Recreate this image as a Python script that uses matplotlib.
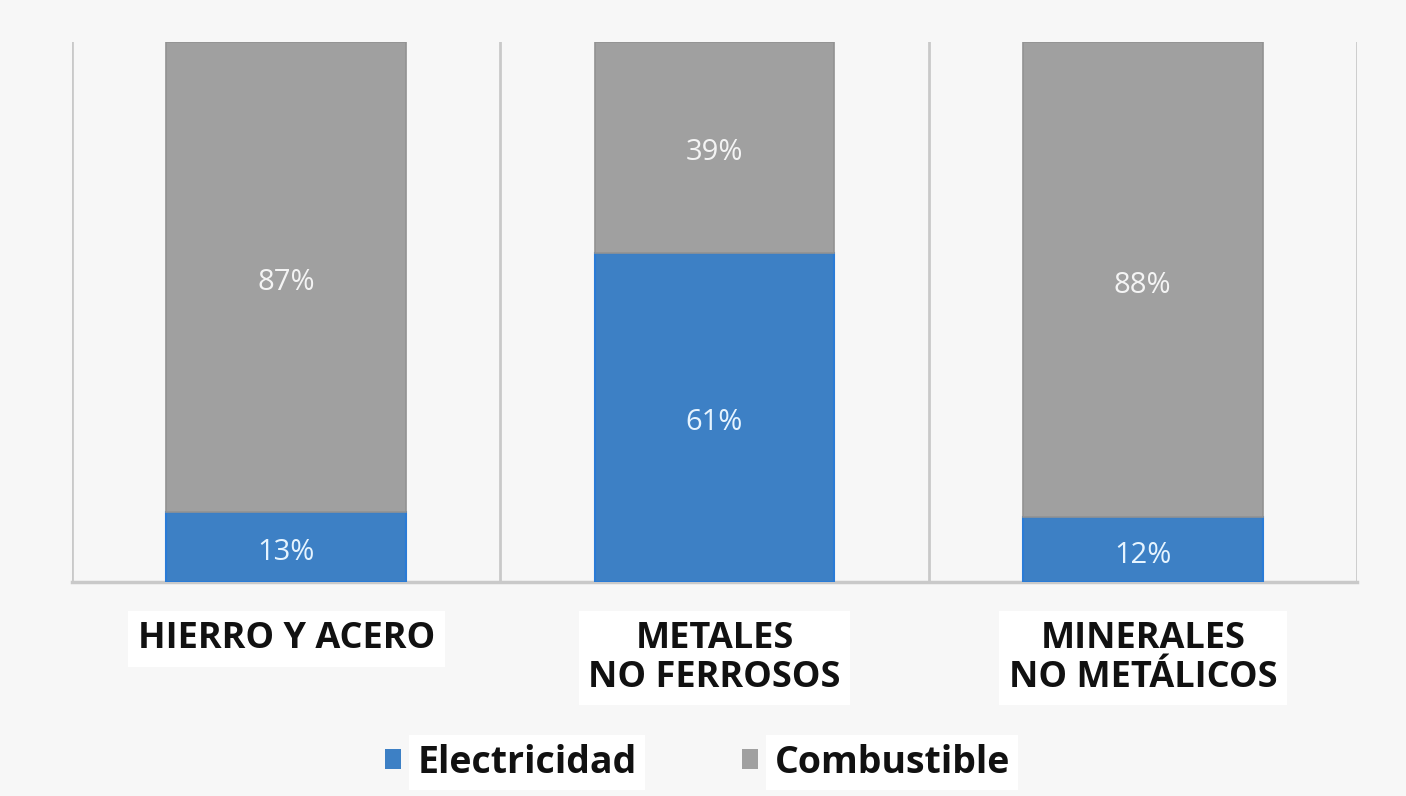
import matplotlib.pyplot as plt
import numpy as np
from matplotlib.patches import Patch

categories = ['HIERRO Y ACERO', 'METALES\nNO FERROSOS', 'MINERALES\nNO METÁLICOS']
electricidad = [13, 61, 12]
combustible = [87, 39, 88]

blue = '#3d80c5'
gray = '#a0a0a0'
bg = '#f7f7f7'
grid = '#c9c9c9'

plt.rcParams['font.family'] = ['Open Sans', 'DejaVu Sans']

fig = plt.figure(figsize=(14.06, 7.96), dpi=100, facecolor=bg)
ax = fig.add_axes([0.0512, 0.2688, 0.9139, 0.6784])
ax.set_facecolor(bg)

x = np.arange(len(categories))
w = 0.56
b1 = ax.bar(x, electricidad, w, color=blue, edgecolor='#2a7bd6', linewidth=1.5, zorder=3)
b2 = ax.bar(x, combustible, w, bottom=electricidad, color=gray, edgecolor='#929292', linewidth=1.2, zorder=3)

# etiquetas de porcentaje dentro de cada tramo
for bars, vals, col in [(b1, electricidad, '#e6f4ff'), (b2, combustible, '#f4f4f4')]:
    for rect, v in zip(bars, vals):
        ax.annotate(f'{v}%', (rect.get_x() + rect.get_width() / 2, rect.get_y() + rect.get_height() / 2),
                    xytext=(0, -4), textcoords='offset points', ha='center', va='center',
                    color=col, fontsize=21, zorder=4)

ax.set_xlim(-0.5, len(categories) - 0.5)
ax.set_ylim(0, 100)
for xv in np.arange(-0.5, len(categories), 1.0):
    ax.axvline(xv, color=grid, linewidth=2, zorder=1)
for s in ['top', 'left', 'right']:
    ax.spines[s].set_visible(False)
ax.spines['bottom'].set_color(grid)
ax.spines['bottom'].set_linewidth(2.5)
ax.set_yticks([])
ax.set_xticks(x)
ax.set_xticklabels(categories, fontsize=26, fontweight='bold', color='#111111', linespacing=1.1)
ax.tick_params(axis='x', length=0, pad=28)
for lbl in ax.get_xticklabels():
    lbl.set_bbox(dict(facecolor='white', edgecolor='none', pad=7))

handles = [Patch(facecolor=blue, label='Electricidad'), Patch(facecolor=gray, label='Combustible')]
leg = fig.legend(handles=handles, loc='center', bbox_to_anchor=(0.496, 0.042), ncol=2, frameon=False,
                 prop={'size': 27, 'weight': 'bold'}, handlelength=0.42, handleheight=0.42,
                 handletextpad=0.45, columnspacing=2.8)
for t in leg.get_texts():
    t.set_color('#111111')
    t.set_bbox(dict(facecolor='white', edgecolor='none', pad=6))

fig.savefig('out.png', dpi=100, facecolor=bg)
